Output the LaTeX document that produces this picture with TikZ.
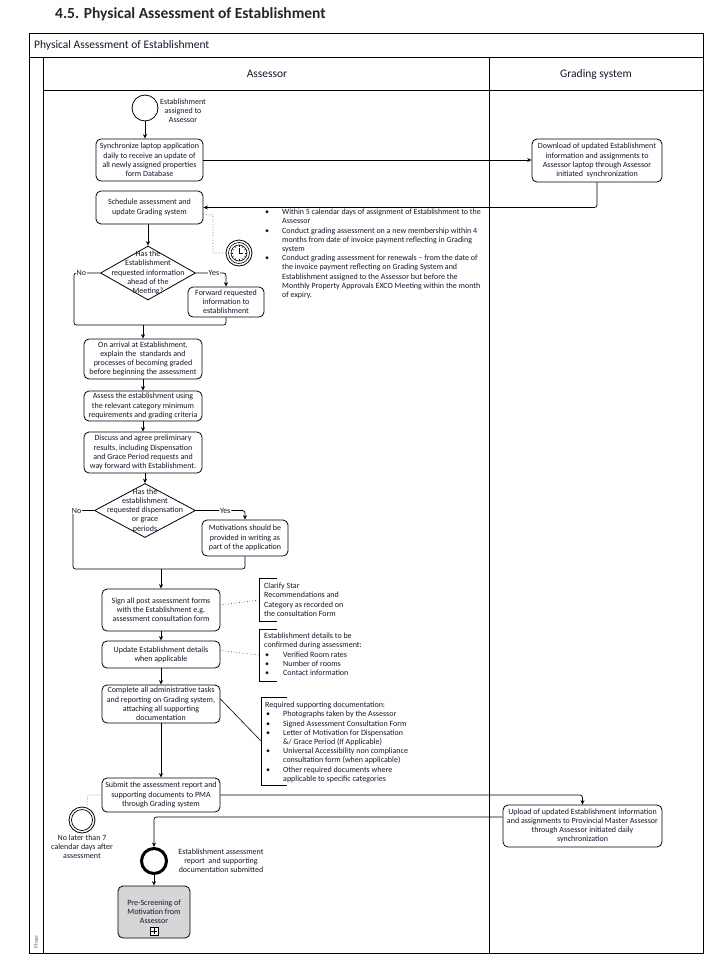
\documentclass[tikz,border=0pt]{standalone}
\usepackage{fontspec}
\setmainfont{Carlito}
\usetikzlibrary{arrows.meta,shapes.geometric}
\definecolor{txt}{HTML}{15152C}
\definecolor{subfill}{HTML}{D6D6D6}
\tikzset{
  timerclock/.pic={
    \draw[line width=0.6pt] (0,0) circle[radius=10.5pt];
    \draw[line width=0.6pt] (0,0) circle[radius=8pt];
    \foreach \a in {0,30,...,330} \draw[line width=0.4pt] (\a:5.8pt) -- (\a:7.6pt);
    \draw[line width=0.6pt] (0,0) -- (0,-5);
    \draw[line width=0.6pt] (0,0) -- (4,0);
  }
}
\begin{document}
\begin{tikzpicture}[x=1pt,y=-1pt,
  every node/.style={font=\fontsize{8}{9.2}\selectfont, text=txt},
  task/.style={draw=black, line width=0.8pt, rounded corners=5pt, fill=white, align=center, inner sep=1pt},
  gate/.style={draw=black, line width=0.8pt, diamond, inner sep=0pt, fill=white},
  evt/.style={draw=black, line width=0.8pt, circle, inner sep=0pt, minimum size=26pt, fill=white},
  flow/.style={draw=black, line width=0.7pt, rounded corners=2.5pt, -{Stealth[length=4.5pt,width=4pt]}},
  seq/.style={draw=black, line width=0.7pt, rounded corners=2.5pt},
  assoc/.style={draw=black!60, line width=0.7pt, dotted},
  lbl/.style={fill=white, inner sep=0.8pt},
  ann/.style={align=left, anchor=north west, inner sep=0pt},
  brk/.style={draw=black, line width=0.8pt},
  pool/.style={draw=black, line width=0.9pt},
  hdr/.style={font=\fontsize{11.5}{13}\selectfont}
]
\useasboundingbox (0,0) rectangle (720,977);

% title
\node[anchor=west, inner sep=0pt, font=\fontsize{15.5}{17}\selectfont\bfseries, text=black!85] (title) at (55,14) {4.5. Physical Assessment of Establishment};

% pool and lanes
\draw[pool] (29,33) rectangle (703,953);
\draw[pool] (29,57) -- (703,57);
\draw[pool] (43,57) -- (43,953);
\draw[pool] (43,90) -- (703,90);
\draw[pool] (489,57) -- (489,953);
\node[hdr, anchor=west, inner sep=0pt] (pooltitle) at (34,45) {Physical Assessment of Establishment};
\node[hdr] (laneA) at (267,74) {Assessor};
\node[hdr] (laneB) at (596,74) {Grading system};
\node[rotate=90, font=\fontsize{5.5}{6}\selectfont, text=black!60] (phase) at (36,942) {Phase};

% start
\node[evt] (st) at (145,108) {};
\node[align=center] (stl) at (183,111) {Establishment\\assigned to\\Assessor};

% tasks
\node[task, minimum width=107pt, minimum height=42pt] (t1) at (149.5,160) {Synchronize laptop application\\daily to receive an update of\\all newly assigned properties\\form Database};
\node[task, minimum width=130pt, minimum height=43pt] (g1) at (597,160.5) {Download of updated Establishment\\information and assignments to\\Assessor laptop through Assessor\\initiated\ \ synchronization};
\node[task, minimum width=107pt, minimum height=33pt] (t2) at (149.5,207.5) {Schedule assessment and\\update Grading system};

\node[evt] (tm1) at (239,253) {};
\pic at (tm1) {timerclock};

% annotation 1
\node[ann] (a1) at (264,209) {%
\makebox[18pt][l]{\hspace{1pt}•}Within 5 calendar days of assignment of Establishment to the\\
\hspace*{18pt}Assessor\\
\makebox[18pt][l]{\hspace{1pt}•}Conduct grading assessment on a new membership within 4\\
\hspace*{18pt}months from date of invoice payment reflecting in Grading\\
\hspace*{18pt}system\\
\makebox[18pt][l]{\hspace{1pt}•}Conduct grading assessment for renewals – from the date of\\
\hspace*{18pt}the invoice payment reflecting on Grading System and\\
\hspace*{18pt}Establishment assigned to the Assessor but before the\\
\hspace*{18pt}Monthly Property Approvals EXCO Meeting within the month\\
\hspace*{18pt}of expiry.};

% gateway 1
\node[gate, minimum width=95pt, minimum height=54pt,
  label={[align=center]center:Has the\\Establishment\\requested information\\ahead of the\\Meeting?}] (d1) at (148,273) {};
\node[task, minimum width=76pt, minimum height=30pt] (f1) at (226,302) {Forward requested\\information to\\establishment};
\coordinate (m1) at (143,325);

\node[task, minimum width=118pt, minimum height=40pt] (t3) at (143,359) {On arrival at Establishment,\\explain the\ \ standards and\\processes of becoming graded\\before beginning the assessment};
\node[task, minimum width=118pt, minimum height=30pt] (t4) at (143,406) {Assess the establishment using\\the relevant category minimum\\requirements and grading criteria};
\node[task, minimum width=118pt, minimum height=41pt] (t5) at (143,452.5) {Discuss and agree preliminary\\results, including Dispensation\\and Grace Period requests and\\way forward with Establishment.};

% gateway 2
\node[gate, minimum width=101pt, minimum height=54pt,
  label={[align=center]center:Has the\\establishment\\requested dispensation\\or grace\\periods}] (d2) at (145,510.5) {};
\node[task, minimum width=86pt, minimum height=36pt] (mv) at (245,538) {Motivations should be\\provided in writing as\\part of the application};
\coordinate (m2) at (161,569);

\node[task, minimum width=118pt, minimum height=42pt] (sg) at (161,610) {Sign all post assessment forms\\with the Establishment e.g.\\assessment consultation form};
\node[task, minimum width=118pt, minimum height=27pt] (up) at (161,654.5) {Update Establishment details\\when applicable};
\node[task, minimum width=118pt, minimum height=38pt] (cp) at (161,704) {Complete all administrative tasks\\and reporting on Grading system,\\attaching all supporting\\documentation};
\node[task, minimum width=118pt, minimum height=34pt] (sb) at (161,795) {Submit the assessment report and\\supporting documents to PMA\\through Grading system};
\node[task, minimum width=159pt, minimum height=42pt] (ul) at (582.5,826) {Upload of updated Establishment information\\and assignments to Provincial Master Assessor\\through Assessor initiated daily\\synchronization};

% annotations 2-4
\draw[brk] (277,578) -- (259,578) -- (259,621) -- (277,621);
\node[ann] (a2) at (264,583) {Clarify Star\\Recommendations and\\Category as recorded on\\the consultation Form};
\draw[brk] (277,629) -- (259,629) -- (259,681) -- (277,681);
\node[ann] (a3) at (264,633) {Establishment details to be\\confirmed during assessment:\\
\makebox[19pt][l]{\hspace{1pt}•}Verified Room rates\\
\makebox[19pt][l]{\hspace{1pt}•}Number of rooms\\
\makebox[19pt][l]{\hspace{1pt}•}Contact information};
\draw[brk] (287,697) -- (261,697) -- (261,785) -- (287,785);
\node[ann] (a4) at (265,702) {Required supporting documentation:\\
\makebox[18pt][l]{\hspace{1pt}•}Photographs taken by the Assessor\\
\makebox[18pt][l]{\hspace{1pt}•}Signed Assessment Consultation Form\\
\makebox[18pt][l]{\hspace{1pt}•}Letter of Motivation for Dispensation\\
\hspace*{18pt}\&/ Grace Period (If Applicable)\\
\makebox[18pt][l]{\hspace{1pt}•}Universal Accessibility non compliance\\
\hspace*{18pt}consultation form (when applicable)\\
\makebox[18pt][l]{\hspace{1pt}•}Other required documents where\\
\hspace*{18pt}applicable to specific categories};

% timer 2 and end
\node[evt] (tm2) at (82,820) {};
\draw[line width=0.7pt] (tm2) circle[radius=10.5pt];
\node[align=center] (tm2l) at (82,847) {No later than 7\\calendar days after\\assessment};
\node[evt, line width=3pt, minimum size=25pt] (en) at (154,861) {};
\node[align=center] (enl) at (221,861) {Establishment assessment\\report\ \ and supporting\\documentation submitted};
\node[task, fill=subfill, minimum width=72pt, minimum height=52pt] (ps) at (154,912) {Pre-Screening of\\Motivation from\\Assessor};
\node[draw=black, line width=0.8pt, minimum size=8pt, inner sep=0pt, fill=white] (psm) at (154,931) {};
\draw[line width=0.8pt] ([yshift=2.6pt]psm.center) -- ([yshift=-2.6pt]psm.center);
\draw[line width=0.8pt] ([xshift=-2.6pt]psm.center) -- ([xshift=2.6pt]psm.center);

% sequence flows
\draw[flow] (st.south) -- (st.south |- t1.north);
\draw[flow] (t1.east) -- (t1.east -| g1.west);
\draw[flow] (g1.south) -- (597,207.5) -- (t2.east);
\draw[flow] (t2.south -| d1.north) -- (d1.north);
\draw[seq] (d1.west) -- node[lbl, pos=0.72]{No} (74,273) -- (74,325) -- (m1);
\draw[flow] (d1.east) -- node[lbl, pos=0.6]{Yes} (226,273) -- (f1.north);
\draw[seq] (f1.south) -- (226,325) -- (m1);
\draw[flow] (m1) -- (t3.north);
\draw[flow] (t3.south) -- (t4.north);
\draw[flow] (t4.south) -- (t5.north);
\draw[flow] (t5.south -| d2.north) -- (d2.north);
\draw[seq] (d2.west) -- node[lbl, pos=0.83]{No} (73,510.5) -- (73,569) -- (m2);
\draw[flow] (d2.east) -- node[lbl, pos=0.6]{Yes} (245,510.5) -- (mv.north);
\draw[seq] (mv.south) -- (245,569) -- (m2);
\draw[flow] (m2) -- (sg.north);
\draw[flow] (sg.south) -- (up.north);
\draw[flow] (up.south) -- (cp.north);
\draw[flow] (cp.south) -- (sb.north);
\draw[flow] (sb.east) -- (582.5,795) -- (ul.north);
\draw[flow] ([yshift=9pt]ul.west) -- (154,817) -- (en.north);
\draw[flow] (en.south) -- (ps.north);

% associations
\draw[assoc] ([yshift=-7pt]t2.east) -- (213,215) -- (213,253) -- (tm1.west);
\draw[assoc] ([yshift=5pt]sg.east) -- (259,600);
\draw[assoc] ([yshift=4pt]up.east) -- (259,655);
\draw[line width=0.6pt] ([yshift=5pt]cp.east) -- (261,741);
\draw[assoc] (tm2.70) -- (88,795) -- (sb.west);
\end{tikzpicture}
\end{document}
